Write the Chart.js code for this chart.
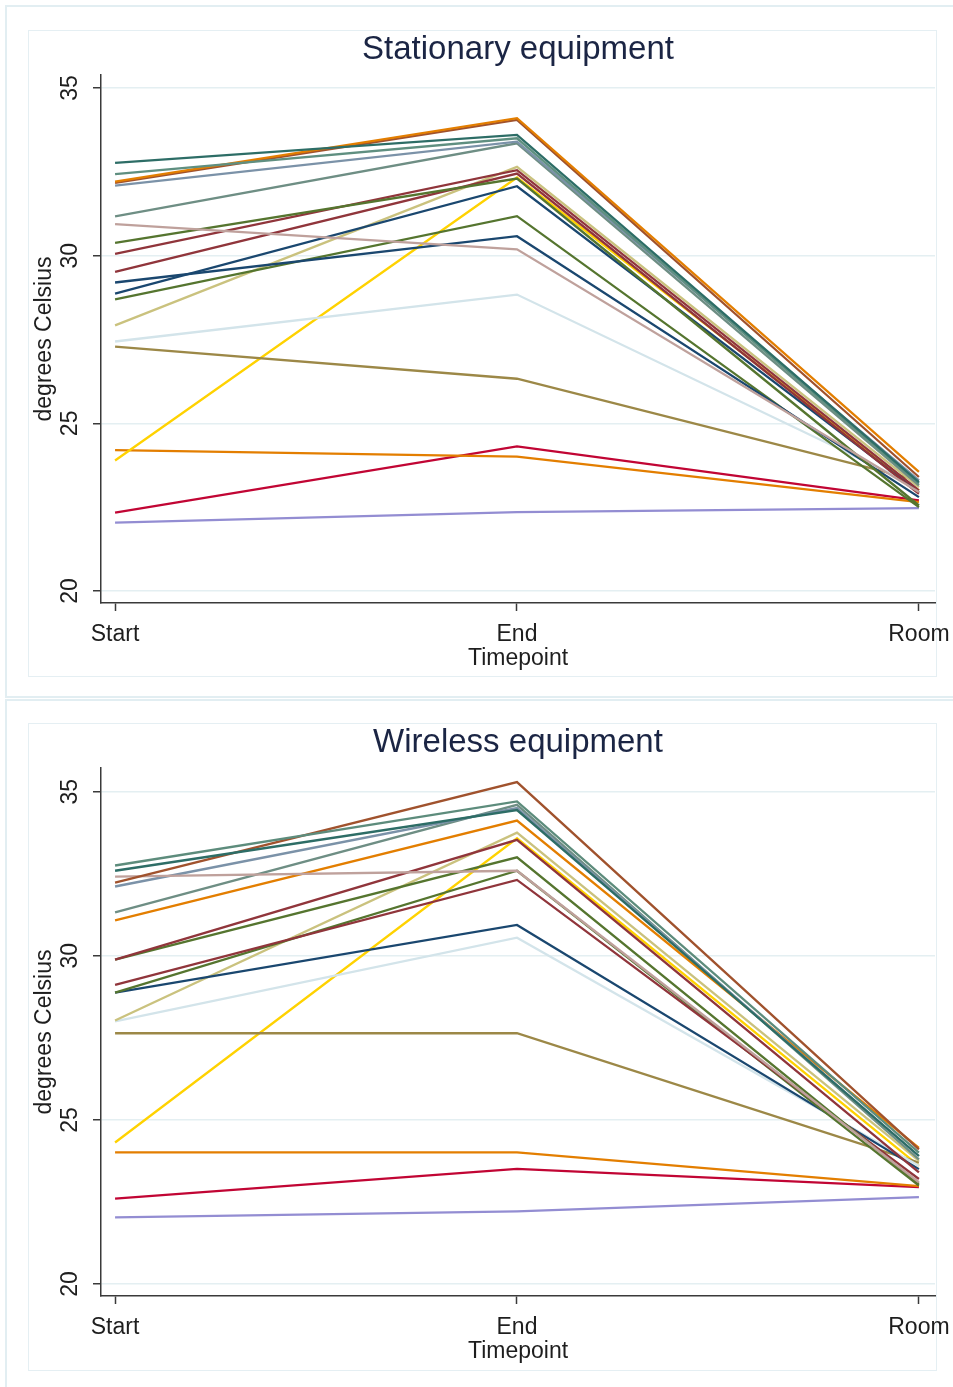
<!DOCTYPE html>
<html>
<head>
<meta charset="utf-8">
<script src="https://cdn.jsdelivr.net/npm/chart.js@4.4.1/dist/chart.umd.min.js"></script>
<style>
  html, body { margin: 0; padding: 0; background: #fff; }
  body { width: 953px; height: 1387px; position: relative; overflow: hidden; }
  .outer { position: absolute; border: 2px solid #e2eef2; box-sizing: border-box; }
  .inner { position: absolute; border: 1.5px solid #e5eff3; box-sizing: border-box; background: #fff; }
  .panel { position: absolute; left: 0; width: 953px; height: 694px; }
  canvas { display: block; }
</style>
</head>
<body>
<div class="outer" style="left:5px;top:5px;width:952px;height:693px"></div>
<div class="inner" style="left:28px;top:30px;width:909px;height:647px"></div>
<div class="outer" style="left:5px;top:699px;width:952px;height:690px"></div>
<div class="inner" style="left:28px;top:723px;width:909px;height:648px"></div>
<div class="panel" style="top:0"><canvas id="stationary" width="953" height="694"></canvas></div>
<div class="panel" style="top:693px"><canvas id="wireless" width="953" height="694"></canvas></div>

<script>
// Timepoints on the x axis
const timepoints = ['Start', 'End', 'Room'];
const yTicks = [20, 25, 30, 35];

// Stationary equipment: temperature (°C) per device at each timepoint
const stationaryStart = [32.77, 32.43, 32.21, 32.17, 32.09, 31.17, 30.94, 30.38, 30.05, 29.52, 29.20, 28.87, 28.70, 27.92, 27.44, 27.29, 23.89, 24.20, 22.34, 22.04];
const stationaryEnd   = [33.60, 33.50, 34.10, 34.05, 33.40, 33.35, 30.19, 32.30, 32.55, 32.45, 30.58, 32.07, 31.18, 32.65, 28.84, 26.33, 32.33, 24.01, 24.31, 22.35];
const stationaryRoom  = [23.25, 23.20, 23.55, 23.40, 23.30, 23.15, 22.95, 22.55, 23.00, 22.90, 22.80, 22.95, 22.50, 23.10, 23.10, 23.30, 23.00, 22.65, 22.70, 22.47];
const stationaryColors = ['#2d6d66', '#5f8f80', '#e37e00', '#a0522d', '#7b92a8', '#6e8e84', '#bfa19c', '#55752f', '#90353b', '#90353b',
                          '#1a476f', '#1a476f', '#55752f', '#cac27e', '#d3e4ea', '#9c8847', '#ffd200', '#e37e00', '#c10534', '#938dd2'];

// Wireless equipment: temperature (°C) per device at each timepoint
const wirelessStart = [32.75, 32.59, 32.23, 32.41, 32.11, 31.32, 31.08, 29.88, 29.88, 29.11, 28.88, 28.88, 28.03, 28.00, 27.64, 24.31, 24.01, 22.60, 22.03];
const wirelessEnd   = [34.70, 34.44, 35.29, 32.59, 34.50, 34.60, 34.12, 33.53, 33.00, 32.31, 32.59, 30.94, 33.75, 30.55, 27.64, 33.58, 24.01, 23.51, 22.21];
const wirelessRoom  = [24.00, 23.90, 24.10, 23.10, 23.90, 23.80, 24.15, 23.40, 23.05, 23.20, 23.00, 23.50, 23.75, 23.60, 23.70, 23.60, 22.98, 22.95, 22.65];
const wirelessColors = ['#5d8c7c', '#2d6d66', '#a0522d', '#bfa19c', '#7b92a8', '#6e8e84', '#e37e00', '#90353b', '#55752f', '#90353b',
                        '#55752f', '#1a476f', '#cac27e', '#d3e4ea', '#9c8847', '#ffd200', '#e37e00', '#c10534', '#938dd2'];

const FONT = '"Liberation Sans", Arial, Helvetica, sans-serif';

// Vertical (rotated) y tick labels, drawn at the scale's tick positions
const rotatedYTicks = {
  id: 'rotatedYTicks',
  afterDraw(chart) {
    const s = chart.scales.y;
    const ctx = chart.ctx;
    ctx.save();
    ctx.fillStyle = '#1e1e1e';
    ctx.font = '23px ' + FONT;
    ctx.textAlign = 'center';
    ctx.textBaseline = 'middle';
    s.ticks.forEach(t => {
      const y = s.getPixelForValue(t.value);
      ctx.save();
      ctx.translate(s.right - 30, y);
      ctx.rotate(-Math.PI / 2);
      ctx.fillText(String(t.value), 0, 0);
      ctx.restore();
    });
    ctx.restore();
  }
};

function buildDatasets(start, end, room, colors) {
  return start.map((v, i) => ({
    data: [start[i], end[i], room[i]].map((y, k) => ({ x: k, y })),
    borderColor: colors[i],
    backgroundColor: colors[i],
    borderWidth: 2.3,
    pointRadius: 0,
    tension: 0,
    fill: false
  }));
}

function makeChart(id, title, start, end, room, colors, yMin, yMax) {
  return new Chart(document.getElementById(id), {
    type: 'line',
    data: { datasets: buildDatasets(start, end, room, colors) },
    plugins: [rotatedYTicks],
    options: {
      responsive: false,
      animation: false,
      events: [],
      layout: { padding: { left: 0, right: 18, top: 0, bottom: 0 } },
      plugins: {
        legend: { display: false },
        tooltip: { enabled: false },
        title: {
          display: true,
          text: title,
          fullSize: false,
          color: '#1b2544',
          font: { family: FONT, size: 33, weight: 'normal' },
          padding: { top: 30.5, bottom: 4.9 }
        }
      },
      scales: {
        x: {
          type: 'linear',
          min: -0.035,
          max: 2.04,
          afterBuildTicks: s => { s.ticks = timepoints.map((_, i) => ({ value: i })); },
          afterFit: s => { s.height = 91; s.paddingLeft = 0; s.paddingRight = 0; },
          ticks: {
            callback: v => timepoints[v],
            color: '#1e1e1e',
            font: { family: FONT, size: 23 },
            padding: 10,
            maxRotation: 0,
            autoSkip: false
          },
          grid: { drawOnChartArea: false, drawTicks: true, tickLength: 8, tickColor: '#3a3a3a', tickWidth: 1.5 },
          border: { display: true, color: '#3a3a3a', width: 1.5 },
          title: {
            display: true,
            text: 'Timepoint',
            color: '#1e1e1e',
            font: { family: FONT, size: 23 },
            padding: { top: 0, bottom: 22 }
          }
        },
        y: {
          min: yMin,
          max: yMax,
          afterBuildTicks: s => { s.ticks = yTicks.map(v => ({ value: v })); },
          afterFit: s => { s.width = 101; },
          ticks: { display: false },
          grid: { color: '#e4eff2', lineWidth: 1.5, drawTicks: true, tickLength: 8, tickColor: '#3a3a3a', tickWidth: 1.5 },
          border: { display: true, color: '#3a3a3a', width: 1.5 },
          title: {
            display: true,
            text: 'degrees Celsius',
            color: '#1e1e1e',
            font: { family: FONT, size: 23 },
            padding: { top: 31, bottom: 0 }
          }
        }
      }
    }
  });
}

makeChart('stationary', 'Stationary equipment', stationaryStart, stationaryEnd, stationaryRoom, stationaryColors, 19.642, 35.388);
makeChart('wireless', 'Wireless equipment', wirelessStart, wirelessEnd, wirelessRoom, wirelessColors, 19.635, 35.72);
</script>
</body>
</html>
